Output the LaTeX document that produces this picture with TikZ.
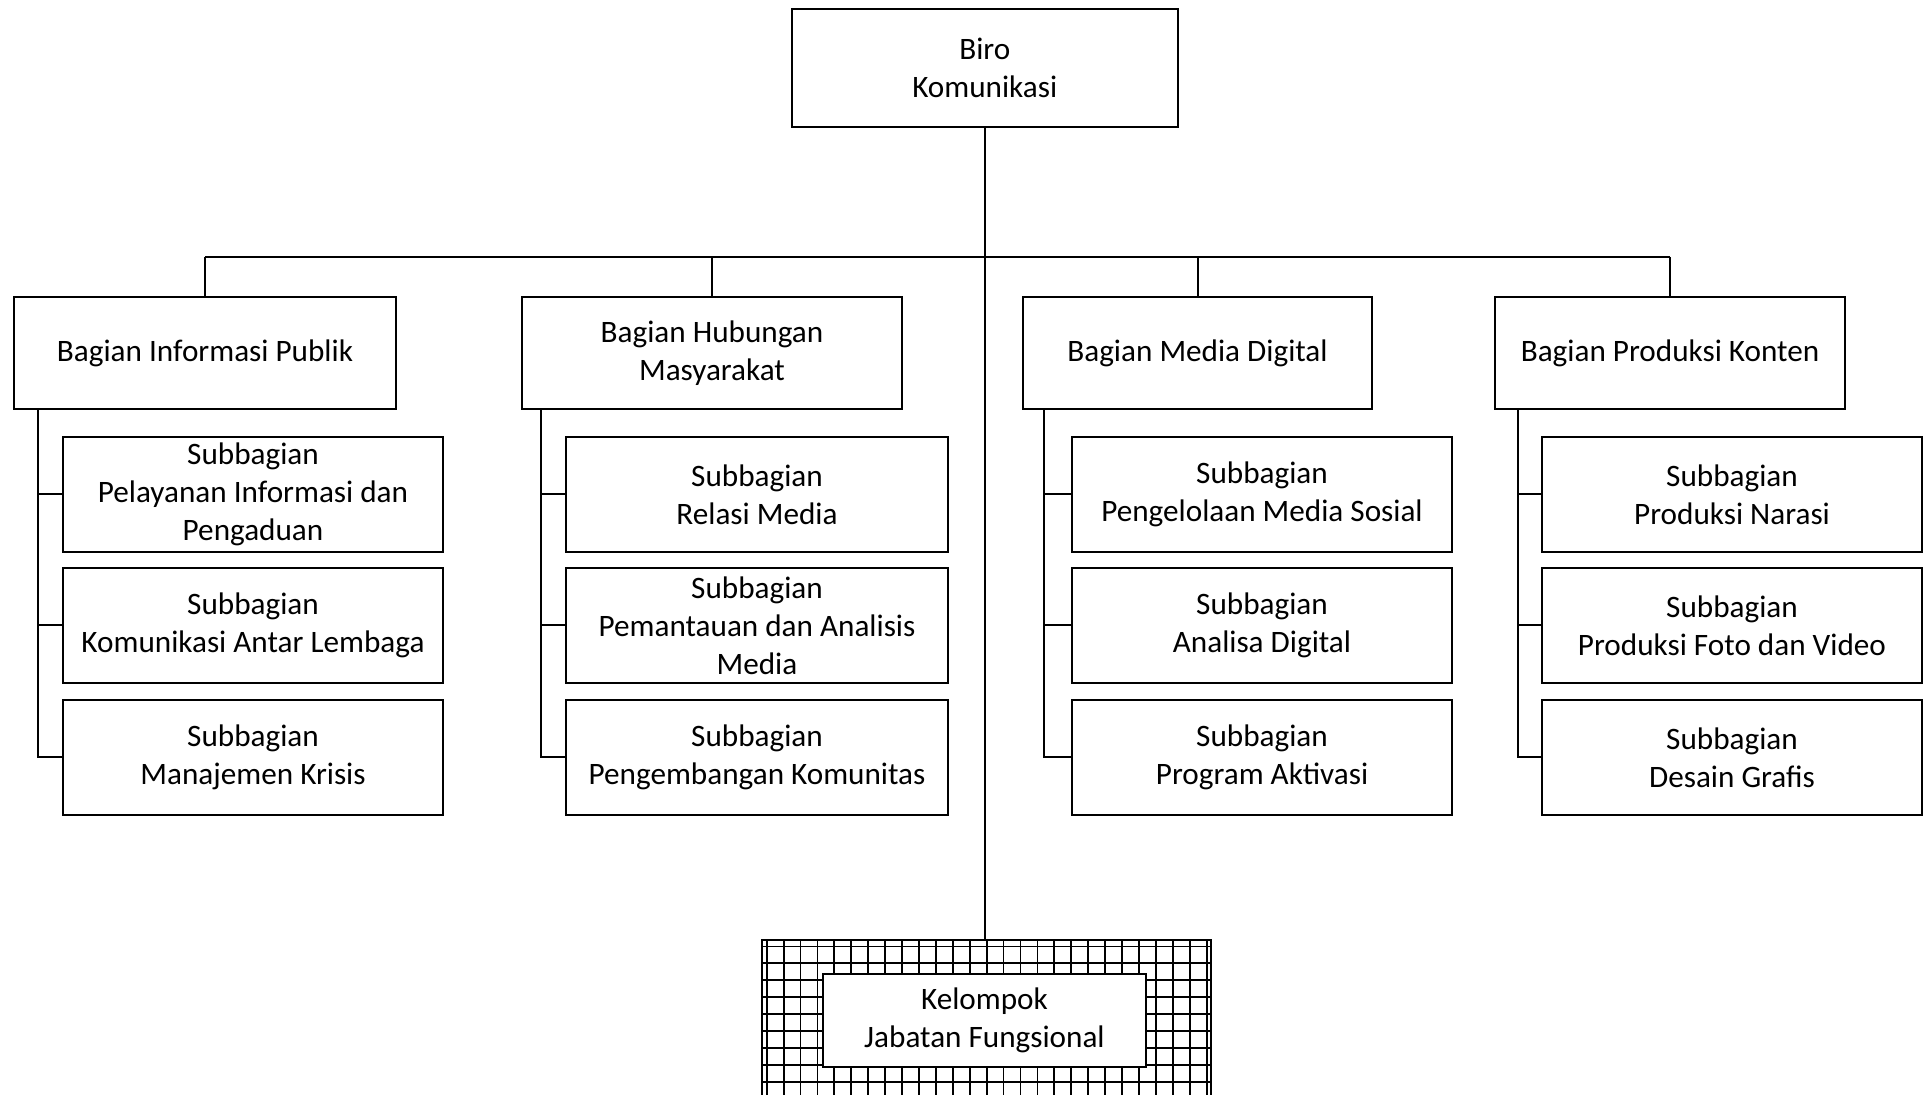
\documentclass[tikz,border=0pt]{standalone}
\usepackage{fontspec}
\setmainfont{Carlito}
\begin{document}
\begin{tikzpicture}[x=0.5pt,y=-0.5pt,
  box/.style={draw=black, line width=1pt, fill=white, inner sep=0pt, align=center,
    font=\fontsize{15.6}{19}\selectfont},
  bag/.style={box, minimum height=56pt},
  sub/.style={box, minimum width=190pt, minimum height=57.5pt},
  link/.style={draw=black, line width=1pt},
  gridline/.style={draw=black, line width=0.9pt}]
\useasboundingbox (0,0) rectangle (1924,1095);
\clip (0,0) rectangle (1924,1095);

% top
\node[box, minimum width=193.25pt, minimum height=59pt] (top) at (984.75,67.6) {Biro\\Komunikasi};

% bagian
\node[bag, minimum width=191pt] (b1) at (205,353) {Bagian Informasi Publik};
\node[bag, minimum width=190pt] (b2) at (712,353) {Bagian Hubungan\\Masyarakat};
\node[bag, minimum width=174.5pt] (b3) at (1197.5,353) {Bagian Media Digital};
\node[bag, minimum width=175pt] (b4) at (1670,353) {Bagian Produksi Konten};

% subbagian group 1
\node[sub] (s11) at (253,494.5) {Subbagian\\Pelayanan Informasi dan\\Pengaduan};
\node[sub] (s12) at (253,625.5) {Subbagian\\Komunikasi Antar Lembaga};
\node[sub] (s13) at (253,757.5) {Subbagian\\Manajemen Krisis};
% group 2
\node[sub, minimum width=191pt] (s21) at (757,494.5) {Subbagian\\Relasi Media};
\node[sub, minimum width=191pt] (s22) at (757,625.5) {Subbagian\\Pemantauan dan Analisis\\Media};
\node[sub, minimum width=191pt] (s23) at (757,757.5) {Subbagian\\Pengembangan Komunitas};
% group 3
\node[sub] (s31) at (1262,494.5) {Subbagian\\Pengelolaan Media Sosial};
\node[sub] (s32) at (1262,625.5) {Subbagian\\Analisa Digital};
\node[sub] (s33) at (1262,757.5) {Subbagian\\Program Aktivasi};
% group 4
\node[sub] (s41) at (1732,494.5) {Subbagian\\Produksi Narasi};
\node[sub] (s42) at (1732,625.5) {Subbagian\\Produksi Foto dan Video};
\node[sub] (s43) at (1732,757.5) {Subbagian\\Desain Grafis};

% grid box (functional group)
\node[draw=black, line width=1pt, minimum width=224.5pt, minimum height=80pt, inner sep=0pt] (grid) at (986.5,1020) {};
\begin{scope}
  \clip (grid.north west) rectangle (grid.south east);
  \foreach \k in {0,...,26} {
    \draw[gridline] ({766.7+16.92*\k},940) -- ({766.7+16.92*\k},1100);
  }
  \foreach \k in {0,...,9} {
    \draw[gridline] (762,{946.5+16.9*\k}) -- (1211,{946.5+16.9*\k});
  }
\end{scope}
\node[box, minimum width=161.5pt, minimum height=46.5pt] (kjf) at (984.5,1020.5) {Kelompok\\Jabatan Fungsional};

% connectors
\coordinate (bar) at (984.75,257);
\draw[link] (top.south) -- (top.south |- grid.north);
\draw[link] (b1.north |- bar) -- (b4.north |- bar);
\foreach \b in {b1,b2,b3,b4} {
  \draw[link] (\b.north |- bar) -- (\b.north);
}

\coordinate (sp1) at (38,409);
\coordinate (sp2) at (541,409);
\coordinate (sp3) at (1044,409);
\coordinate (sp4) at (1518,409);
\foreach \g in {1,2,3,4} {
  \draw[link] (sp\g) |- (s\g3.west);
  \draw[link] (sp\g |- s\g1.west) -- (s\g1.west);
  \draw[link] (sp\g |- s\g2.west) -- (s\g2.west);
}
\end{tikzpicture}
\end{document}
